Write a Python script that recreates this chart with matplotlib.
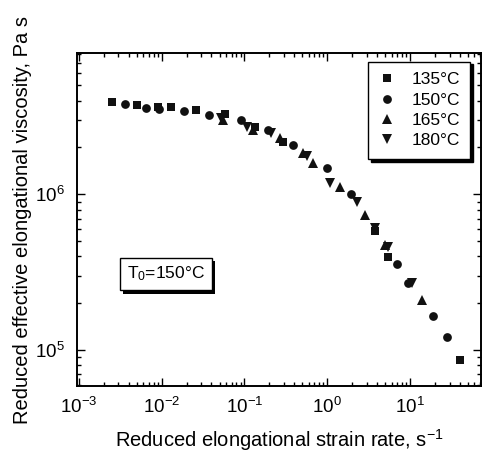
import matplotlib
matplotlib.use("Agg")
import matplotlib.pyplot as plt
import matplotlib.patheffects as pe
from matplotlib.ticker import LogLocator, NullFormatter

plt.rcParams['font.family'] = ['Liberation Sans', 'DejaVu Sans']
plt.rcParams['mathtext.fontset'] = 'custom'
plt.rcParams['mathtext.rm'] = 'Liberation Sans'
plt.rcParams['mathtext.it'] = 'Liberation Sans:italic'
plt.rcParams['mathtext.bf'] = 'Liberation Sans:bold'

# Reduced strain rate (s^-1) and reduced effective elongational viscosity (Pa s)
rate_135 = [0.00254, 0.00508, 0.00902, 0.01285, 0.02577, 0.0578, 0.133, 0.29, 3.77, 5.45, 40.1]
visc_135 = [3.90e6, 3.76e6, 3.66e6, 3.62e6, 3.48e6, 3.28e6, 2.70e6, 2.16e6, 5.81e5, 3.97e5, 8.71e4]

rate_150 = [0.00357, 0.00641, 0.0092, 0.0186, 0.037, 0.092, 0.191, 0.387, 0.98, 1.93, 7.0, 9.44, 19.1, 28.2]
visc_150 = [3.80e6, 3.58e6, 3.51e6, 3.43e6, 3.23e6, 3.0e6, 2.59e6, 2.08e6, 1.47e6, 1.01e6, 3.57e5, 2.69e5, 1.65e5, 1.21e5]

rate_165 = [0.0547, 0.126, 0.267, 0.512, 0.676, 1.42, 2.85, 4.97, 13.8]
visc_165 = [3.0e6, 2.59e6, 2.30e6, 1.83e6, 1.58e6, 1.12e6, 7.36e5, 4.72e5, 2.10e5]

rate_180 = [0.0516, 0.106, 0.212, 0.567, 1.07, 2.26, 3.77, 5.45, 10.5]
visc_180 = [3.09e6, 2.72e6, 2.48e6, 1.76e6, 1.18e6, 8.93e5, 6.08e5, 4.61e5, 2.69e5]

series = [
    ("135°C", rate_135, visc_135, "s", 5.5),
    ("150°C", rate_150, visc_150, "o", 6.3),
    ("165°C", rate_165, visc_165, "^", 7.0),
    ("180°C", rate_180, visc_180, "v", 7.0),
]

fig = plt.figure(figsize=(4.83, 4.53), dpi=100)
ax = fig.add_axes([0.1594, 0.1479, 0.8365, 0.735])

for label, x, y, m, ms in series:
    ax.plot(x, y, linestyle="none", marker=m, markersize=ms,
            color="#111111", markeredgewidth=0, label=label)

ax.set_xscale("log")
ax.set_yscale("log")
ax.set_xlim(9.5e-4, 72)
ax.set_ylim(5.9e4, 8.07e6)

ax.xaxis.set_major_locator(LogLocator(base=10, numticks=10))
ax.yaxis.set_major_locator(LogLocator(base=10, numticks=10))
ax.xaxis.set_minor_locator(LogLocator(base=10, subs=range(2, 10), numticks=20))
ax.yaxis.set_minor_locator(LogLocator(base=10, subs=range(2, 10), numticks=20))
ax.xaxis.set_minor_formatter(NullFormatter())
ax.yaxis.set_minor_formatter(NullFormatter())

ax.tick_params(which="both", direction="in", top=True, right=True,
               labelsize=13.5, width=1.0)
ax.tick_params(which="major", length=6)
ax.tick_params(axis="x", which="major", pad=8)
ax.tick_params(axis="y", which="major", pad=9)
ax.tick_params(which="minor", length=3)
for s in ax.spines.values():
    s.set_linewidth(1.4)

ax.set_xlabel("Reduced elongational strain rate, s$^{-1}$", fontsize=14.5, labelpad=7)
ax.set_ylabel("Reduced effective elongational viscosity, Pa s", fontsize=14.5, labelpad=2)

leg = ax.legend(loc="upper right", bbox_to_anchor=(0.973, 0.974), borderaxespad=0,
                fontsize=12.5, frameon=True, fancybox=False, edgecolor="black",
                labelspacing=0.3, handletextpad=0.9, handlelength=1.0,
                borderpad=0.6, markerscale=1.0,
                shadow={"color": "black", "alpha": 1.0})
leg.get_frame().set_linewidth(1.0)

t = ax.text(0.22, 0.336, "T$_{0}$=150°C", transform=ax.transAxes,
            ha="center", va="center", fontsize=12.5,
            bbox=dict(boxstyle="square,pad=0.4", facecolor="white",
                      edgecolor="black", linewidth=1.0))
t.get_bbox_patch().set_path_effects([
    pe.SimplePatchShadow(offset=(2.5, -2.5), shadow_rgbFace="black", alpha=1.0),
    pe.Normal(),
])

fig.savefig("out.png", dpi=100)
